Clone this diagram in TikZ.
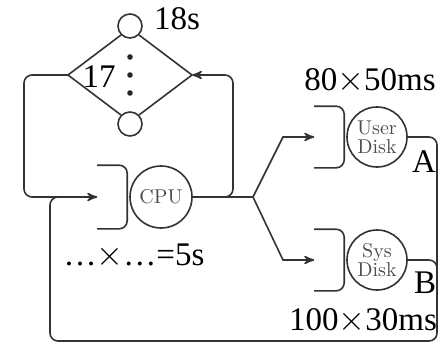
\documentclass[tikz,border=0pt]{standalone}
\usepackage{fontspec}
\setmainfont{Liberation Serif}
\newfontfamily\lmfont{Latin Modern Roman}
\usepackage{tikz}
\usetikzlibrary{arrows}
\tikzset{
  every node/.style = {inner sep=0pt},
  station/.style = {circle, draw=black!80, line width=0.8pt, text=black!70,
    font=\lmfont\fontsize{10}{9.5}\selectfont, align=center},
  timetext/.style = {anchor=base, font=\fontsize{16.5}{18}\selectfont},
}
\newcommand{\queuebox}[1]{%
  \path (#1.west |- #1.north) coordinate (#1-nw)
        (#1.west |- #1.south) coordinate (#1-sw);
  \draw[rounded corners=4pt] ([xshift=-16pt]#1-nw) -- ([xshift=-1pt]#1-nw)
    -- ([xshift=-1pt]#1-sw) -- ([xshift=-16pt]#1-sw);
}

\begin{document}
\begin{tikzpicture}[x=0.5pt, y=-0.5pt, >=stealth', line width=0.8pt, draw=black!80]
  \useasboundingbox (0,0) rectangle (442,343);

  % terminals
  \node[station, minimum size=12pt] (top) at (130,26) {};
  \node[station, minimum size=12pt] (bot) at (130,124) {};
  \coordinate (dl) at (68,75);
  \coordinate (dr) at (192,75);
  \draw (dl) -- (top.south west);
  \draw (dr) -- (top.south east);
  \draw (dl) -- (bot.north west);
  \draw (dr) -- (bot.north east);
  \foreach \y in {57,75,93}
    \fill[black!85] (130,\y) circle (1.4pt);

  % stations
  \node[station, minimum size=31pt] (cpu) at (161,197) {CPU};
  \node[station, minimum size=30pt] (user) at (377,137) {User\\Disk};
  \node[station, minimum size=30pt] (sys) at (377,260) {Sys\\Disk};
  \queuebox{cpu}
  \queuebox{user}
  \queuebox{sys}

  % connectors
  \coordinate (fork) at (253,197);
  \draw (cpu) -- (fork);
  \draw[->, rounded corners=4pt] (cpu.east) -- (233,197) -- (233,75) -- (dr);
  \draw[->, rounded corners=4pt] (dl) -- (24,75) -- (24,197) -- ([xshift=-16pt]cpu.west);
  \draw[->] (fork) -- (283,137) -- ([xshift=-16pt]user.west);
  \draw[->] (fork) -- (283,260) -- ([xshift=-16pt]sys.west);
  \draw[rounded corners=4pt] (user.east) -- (437,137) -- (437,341) -- (50,341)
    -- (50,197) -- (70,197);
  \draw[rounded corners=4pt] (sys.east) -- (437,260) -- (437,300);

  % times
  \node[timetext] (t18) at (177,29) {18s};
  \node[timetext] (t17) at (99,87) {17};
  \node[timetext] (tuser) at (370,90) {80$\times$50ms};
  \node[timetext] (ta) at (424,172) {A};
  \node[timetext] (tb) at (425,293) {B};
  \node[timetext] (tsys) at (363,330) {100$\times$30ms};
  \node[timetext] (tcpu) at (134,265) {…$\times$…=5s};
\end{tikzpicture}
\end{document}
